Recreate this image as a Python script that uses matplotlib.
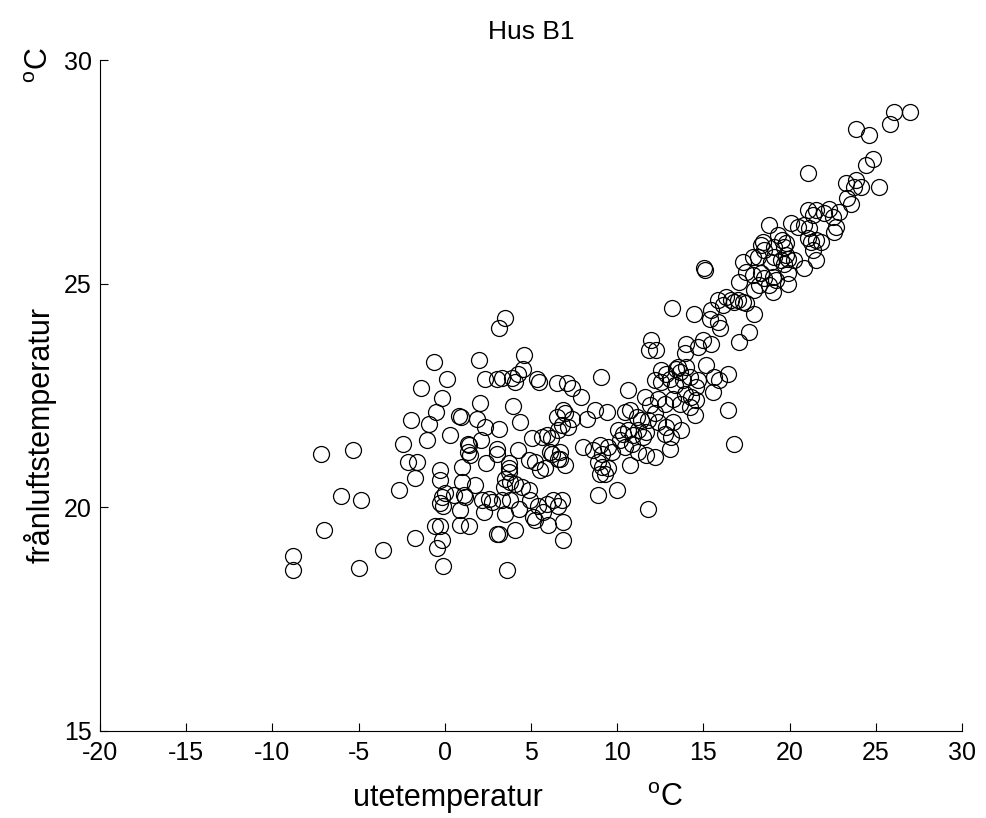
import numpy as np
import matplotlib
matplotlib.use('Agg')
import matplotlib.pyplot as plt

plt.rcParams['font.family'] = ['Liberation Sans', 'DejaVu Sans']
plt.rcParams['mathtext.fontset'] = 'custom'
plt.rcParams['mathtext.rm'] = 'Liberation Sans'
plt.rcParams['axes.unicode_minus'] = False

# utetemperatur (x) och frånluftstemperatur (y)
ute = [
    # kalla dagar
    -1.40, -0.16, -0.49, -1.97, -0.92, -1.06, -2.41, -7.18, -5.32, -2.12,
    -1.60, -0.25, -0.25, -1.73, -2.66, -6.01, -4.87, -0.16, -0.25, -0.12,
    -0.54, -0.25, -7.03, -1.73, -0.16, -0.45, -3.57, -8.79, -8.79, -4.97,
    -0.12,
    # 0-7 grader
    3.47, 3.16, -0.64, 2.00, 4.62, 4.53, 0.13, 2.31, 3.02, 3.31,
    3.89, 4.05, 4.24, 5.34, 5.49, 6.49, 2.06, 3.93, 0.84, 0.94,
    1.87, 4.37, 6.49, 6.88, 2.31, 3.12, 6.78, 6.59, 0.33, 1.35,
    1.43, 2.12, 3.02, 4.24, 5.04, 5.62, 5.91, 6.16, 6.11, 6.69,
    1.35,
    1.00, 1.00, 1.49, 2.39, 3.02, 3.70, 3.70, 3.74, 4.86, 5.24,
    5.53, 5.82, 6.20, 6.69, 0.04, 0.52, 1.10, 1.20, 0.90, 1.77,
    2.16, 2.54, 2.73, 3.41, 3.51, 3.79, 3.31, 3.79, 4.08, 4.47,
    4.86, 4.95, 4.28, 3.51, 2.25, 5.43, 5.72, 5.91, 6.30, 6.59,
    6.78, 6.01, 5.14, 5.24, 0.90, 1.39, 3.02, 3.12, 4.05, 6.88,
    3.60, 6.88,
    # 7-14 grader
    11.98, 11.83, 12.27, 14.00, 13.91, 9.06, 7.07, 7.36, 7.90, 10.64,
    12.56, 12.85, 13.43, 13.62, 12.17, 12.56, 13.04, 13.33, 13.82, 11.60,
    11.89, 12.37, 12.76, 13.24, 13.62, 6.98, 7.36, 7.17, 8.71, 9.38,
    8.22, 10.44, 10.73, 11.12, 11.40, 11.79, 12.17, 12.37, 12.85, 13.24,
    13.72, 10.06, 10.35, 10.64, 10.92, 11.21, 11.50, 11.69, 12.76, 13.14,
    8.03, 8.61, 9.00, 9.09, 9.48, 9.67, 10.15, 10.44, 10.83, 11.21,
    11.69, 12.17, 13.04, 6.59, 6.98, 8.90, 9.09, 9.48, 9.29, 9.00,
    10.73, 8.90, 9.96, 11.79, 13.20,
    # 14-20 grader
    15.03, 15.07, 17.28, 17.86, 18.34, 19.11, 19.69, 19.88, 17.47, 17.86,
    19.01, 17.95, 17.09, 16.32, 16.61, 16.80, 17.00, 17.28, 17.47, 15.84,
    16.13, 15.45, 15.36, 14.45, 17.95, 15.84, 15.94, 17.66, 17.09, 14.97,
    15.45, 14.68, 13.53, 14.01, 14.20, 14.68, 14.58, 15.16, 15.64, 15.93,
    16.42, 13.91, 14.30, 14.58, 15.55, 14.20, 14.49, 16.42, 16.76,
    19.11, 19.50, 19.88, 18.44,
    # varma dagar
    26.05, 26.97, 25.82, 23.83, 24.60, 24.86, 24.41, 21.04, 23.25, 23.83,
    23.74, 24.12, 25.18, 23.35, 23.54, 22.87, 21.04, 21.33, 21.52, 22.00,
    22.29, 22.49, 22.68, 22.58, 20.08, 20.46, 20.85, 21.14, 18.82, 19.30,
    19.58, 19.78, 21.04, 21.23, 21.52, 21.81, 21.33, 21.52, 20.85, 20.27,
    19.78, 19.69, 18.53, 18.15, 18.92, 19.88, 18.82, 19.21, 19.01, 18.34,
    18.53, 18.24,
]

franluft = [
    22.67, 22.45, 22.13, 21.96, 21.87, 21.50, 21.42, 21.20, 21.28, 21.01,
    21.01, 20.84, 20.60, 20.66, 20.38, 20.25, 20.17, 20.23, 20.10, 20.02,
    19.58, 19.58, 19.49, 19.31, 19.26, 19.09, 19.04, 18.91, 18.59, 18.64,
    18.69,
    24.24, 24.01, 23.25, 23.30, 23.40, 23.09, 22.86, 22.86, 22.86, 22.89,
    22.90, 22.80, 22.98, 22.88, 22.80, 22.77, 22.33, 22.26, 22.04, 22.01,
    21.98, 21.91, 22.02, 22.17, 21.80, 21.74, 21.83, 21.72, 21.61, 21.42,
    21.39, 21.51, 21.31, 21.29, 21.56, 21.57, 21.61, 21.54, 21.24, 21.24,
    21.24,
    20.90, 20.57, 21.16, 20.98, 21.20, 20.98, 20.87, 20.79, 21.05, 21.01,
    20.83, 20.87, 21.20, 21.09, 20.31, 20.27, 20.27, 20.23, 19.93, 20.49,
    20.16, 20.19, 20.12, 20.46, 20.64, 20.57, 20.16, 20.16, 20.53, 20.46,
    20.38, 20.16, 19.97, 19.86, 19.90, 20.04, 19.90, 20.08, 20.16, 20.04,
    20.16, 19.60, 19.78, 19.71, 19.60, 19.58, 19.41, 19.40, 19.49, 19.26,
    18.61, 19.67,
    23.74, 23.51, 23.51, 23.66, 23.44, 22.91, 22.77, 22.66, 22.47, 22.62,
    23.06, 22.99, 23.10, 23.03, 22.84, 22.80, 22.88, 22.73, 22.84, 22.47,
    22.28, 22.43, 22.32, 22.43, 22.32, 22.10, 21.98, 21.80, 22.17, 22.13,
    21.98, 22.13, 22.17, 22.02, 21.95, 21.95, 22.10, 21.91, 21.80, 21.91,
    21.72, 21.72, 21.65, 21.72, 21.61, 21.72, 21.57, 21.68, 21.65, 21.57,
    21.35, 21.28, 21.39, 21.20, 21.35, 21.24, 21.50, 21.35, 21.42, 21.24,
    21.16, 21.13, 21.31, 21.09, 20.94, 21.01, 20.90, 20.87, 20.75, 20.75,
    20.94, 20.27, 20.38, 19.97, 24.45,
    25.34, 25.30, 25.48, 25.60, 25.86, 25.82, 25.82, 25.00, 25.27, 25.19,
    25.15, 24.85, 25.04, 24.70, 24.63, 24.59, 24.63, 24.59, 24.56, 24.63,
    24.52, 24.41, 24.22, 24.33, 24.33, 24.15, 24.00, 23.92, 23.70, 23.74,
    23.66, 23.59, 23.14, 23.14, 22.91, 22.84, 22.69, 23.18, 22.91, 22.84,
    22.99, 22.54, 22.47, 22.39, 22.58, 22.24, 22.06, 22.17, 21.42,
    25.60, 25.53, 25.56, 25.94,
    28.84, 28.84, 28.58, 28.45, 28.32, 27.78, 27.65, 27.47, 27.24, 27.32,
    27.17, 27.17, 27.15, 26.91, 26.79, 26.61, 26.64, 26.53, 26.64, 26.57,
    26.68, 26.49, 26.27, 26.16, 26.35, 26.27, 26.31, 26.24, 26.31, 26.09,
    25.97, 25.90, 26.01, 25.94, 25.97, 25.94, 25.75, 25.53, 25.34, 25.53,
    25.64, 25.45, 25.75, 25.60, 25.49, 25.23, 24.97, 25.08, 24.82, 25.23,
    25.12, 24.97,
]

x_ticks = [-20, -15, -10, -5, 0, 5, 10, 15, 20, 25, 30]
y_ticks = [15, 20, 25, 30]

W, H = 986, 818
fig = plt.figure(figsize=(W / 100, H / 100), dpi=100)
ax = fig.add_axes([100 / W, 1 - 731 / H, 862 / W, 671 / H])

ax.plot(ute, franluft, 'o', mfc='none', mec='black', mew=0.9, ms=11.5)

ax.set_xlim(-20, 30)
ax.set_ylim(15, 30)
ax.set_xticks(x_ticks)
ax.set_yticks(y_ticks)
ax.spines['top'].set_visible(False)
ax.spines['right'].set_visible(False)
ax.tick_params(direction='in', length=6, labelsize=18)
ax.tick_params(axis='x', pad=7)
ax.tick_params(axis='y', pad=6)

ax.set_title('Hus B1', fontsize=19, pad=15)

# axeltexter med enhet placerad separat, som i originalet
fig.text(448 / W, 1 - 806 / H, 'utetemperatur', fontsize=22,
         ha='center', va='baseline')
fig.text(665 / W, 1 - 806 / H, '$^{\\mathrm{o}}$C', fontsize=22,
         ha='center', va='baseline')
fig.text(40 / W, 1 - 435 / H, 'frånluftstemperatur', fontsize=22,
         rotation=90, ha='center', va='center')
fig.text(40 / W, 1 - 65 / H, '$^{\\mathrm{o}}$C', fontsize=22,
         rotation=90, ha='center', va='center')

fig.savefig('out.png', dpi=100)
